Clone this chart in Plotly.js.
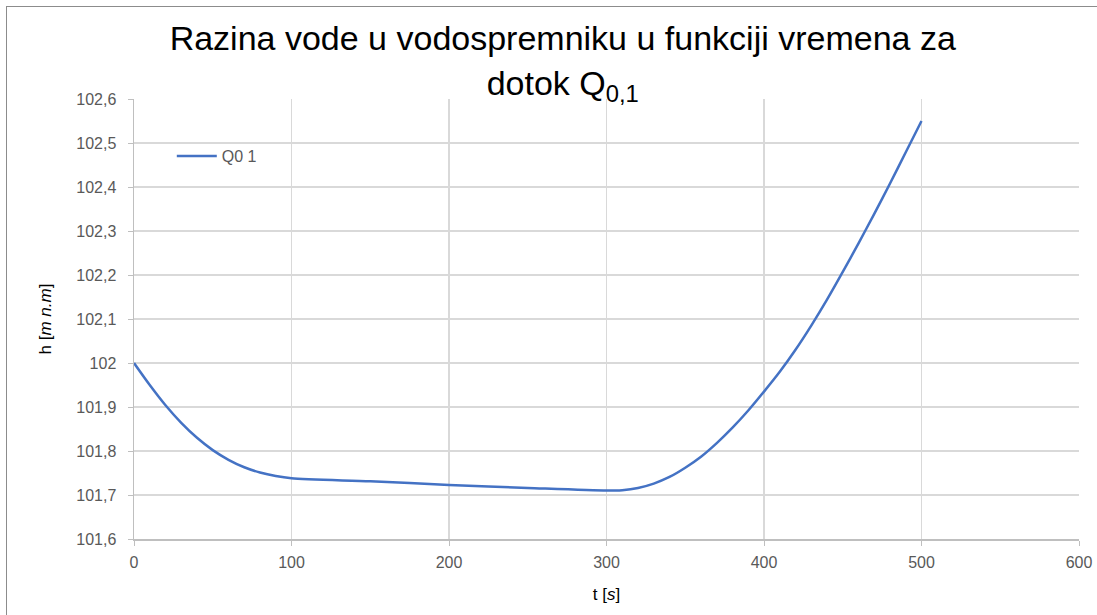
<!DOCTYPE html>
<html>
<head>
<meta charset="utf-8">
<script src="https://cdn.plot.ly/plotly-3.0.1.min.js"></script>
<style>
  html, body { margin: 0; padding: 0; background: #ffffff; }
  #chart { width: 1097px; height: 615px; position: relative; }
  #frame { position: absolute; left: 6px; top: 6px; width: 1091px; height: 609px;
           border-left: 1.5px solid #8c8c8c; border-top: 1.5px solid #8c8c8c; pointer-events: none; }
</style>
</head>
<body>
<div id="chart"></div>
<div id="frame"></div>
<script>
// time [s]
const t = [0, 10, 20, 30, 40, 50, 60, 70, 80, 90, 100, 150, 200, 250, 300, 310, 320, 330, 340, 350,
           360, 370, 380, 390, 400, 410, 420, 430, 440, 450, 460, 470, 480, 490, 500];
// water level h [m n.m]
const h = [102.0, 101.95, 101.904, 101.864, 101.830, 101.802, 101.780, 101.763, 101.751, 101.743, 101.738,
           101.731, 101.723, 101.716, 101.710, 101.711, 101.716, 101.726, 101.741, 101.762,
           101.787, 101.818, 101.853, 101.892, 101.935, 101.980, 102.030, 102.085, 102.144, 102.207,
           102.272, 102.339, 102.408, 102.479, 102.55];
const seriesName = 'Q0 1';
const titleText = 'Razina vode u vodospremniku u funkciji vremena za<br>dotok Q<sub>0,1</sub>';
const xTitle = 't [<i>s</i>]';
const yTitle = 'h [<i>m n.m</i>]';

const fontFam = 'Liberation Sans, Arial, sans-serif';

const trace = {
  x: t, y: h, type: 'scatter', mode: 'lines', name: seriesName,
  line: { color: '#4472C4', width: 2.5, shape: 'spline', smoothing: 0.8 }
};

const layout = {
  width: 1097, height: 615,
  margin: { l: 134, r: 18, t: 99, b: 76 },
  paper_bgcolor: '#ffffff', plot_bgcolor: '#ffffff',
  separators: ',.',
  showlegend: true,
  title: {
    text: titleText,
    font: { family: fontFam, size: 34, color: '#000000' },
    x: 0.513, xanchor: 'center', y: 0.918, yanchor: 'top'
  },
  legend: {
    x: 0.04, y: 0.87, xanchor: 'left', yanchor: 'middle',
    bgcolor: 'rgba(0,0,0,0)', itemwidth: 40,
    font: { family: fontFam, size: 16, color: '#595959' }
  },
  xaxis: {
    range: [0, 600], dtick: 100, tick0: 0,
    showgrid: true, gridcolor: '#d9d9d9', gridwidth: 1.5,
    zeroline: false, showline: true, linecolor: '#bfbfbf', linewidth: 1.5,
    ticks: 'outside', ticklen: 5, tickcolor: '#bfbfbf', ticklabelstandoff: 3,
    tickfont: { family: fontFam, size: 16, color: '#595959' },
    title: { text: xTitle, font: { family: fontFam, size: 17, color: '#000000' }, standoff: 18 }
  },
  yaxis: {
    range: [101.6, 102.6], dtick: 0.1, tick0: 101.6,
    showgrid: true, gridcolor: '#d9d9d9', gridwidth: 1.5,
    zeroline: false, showline: true, linecolor: '#bfbfbf', linewidth: 1.5,
    ticks: 'outside', ticklen: 5, tickcolor: '#bfbfbf', ticklabelstandoff: 8,
    tickfont: { family: fontFam, size: 16, color: '#595959' },
    title: { text: yTitle, font: { family: fontFam, size: 17, color: '#000000' }, standoff: 20 }
  }
};

Plotly.newPlot('chart', [trace], layout, { displayModeBar: false, staticPlot: true });
</script>
</body>
</html>
